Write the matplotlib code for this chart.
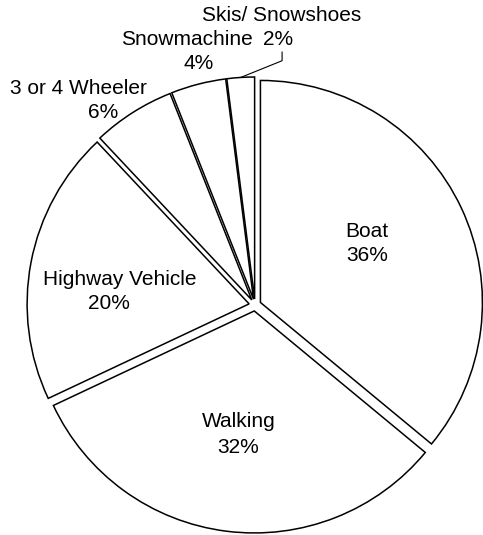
import numpy as np
import matplotlib.pyplot as plt

plt.rcParams['font.family'] = ['Liberation Sans', 'DejaVu Sans']

# data
categories = ['Boat', 'Walking', 'Highway Vehicle', '3 or 4 Wheeler', 'Snowmachine', 'Skis/ Snowshoes']
shares = [36, 32, 20, 6, 4, 2]

# label line positions in data units (pie radius = 1, centre at 0,0)
name_pos = [(0.505, 0.329), (-0.072, -0.527), (-0.608, 0.117),
            (-0.797, 0.977), (-0.306, 1.194), (0.122, 1.306)]
pct_pos = [(0.505, 0.225), (-0.077, -0.640), (-0.658, 0.009),
           (-0.685, 0.869), (-0.252, 1.090), (0.104, 1.194)]

EXPLODE = 0.027
W, H = 483, 535
CX, CY, R = 255, 305, 222   # pie centre and radius in pixels

fig = plt.figure(figsize=(W / 100, H / 100), dpi=100)
ax = fig.add_axes([0, 0, 1, 1])

wedges, _ = ax.pie(shares, explode=[EXPLODE] * len(shares), startangle=90,
                   counterclock=False, radius=1,
                   wedgeprops=dict(facecolor='white', edgecolor='black', linewidth=1.1))

for name, pct, p1, p2 in zip(categories, shares, name_pos, pct_pos):
    ax.text(p1[0], p1[1], name, ha='center', va='center', fontsize=15)
    ax.text(p2[0], p2[1], f'{pct}%', ha='center', va='center', fontsize=15)

# leader line for the smallest slice
w = wedges[-1]
mid = np.deg2rad((w.theta1 + w.theta2) / 2)
tip = ((1 + EXPLODE) * np.cos(mid), (1 + EXPLODE) * np.sin(mid))
ax.annotate('', xy=tip, xytext=(pct_pos[-1][0] + 0.018, pct_pos[-1][1] - 0.054),
            arrowprops=dict(arrowstyle='-', color='black', lw=0.8,
                            shrinkA=0, shrinkB=0,
                            connectionstyle='angle,angleA=90,angleB=22,rad=0'))

ax.set_aspect('auto')
ax.set_xlim(-CX / R, (W - CX) / R)
ax.set_ylim((CY - H) / R, CY / R)
ax.axis('off')

fig.savefig('out.png', dpi=100, facecolor='white')
